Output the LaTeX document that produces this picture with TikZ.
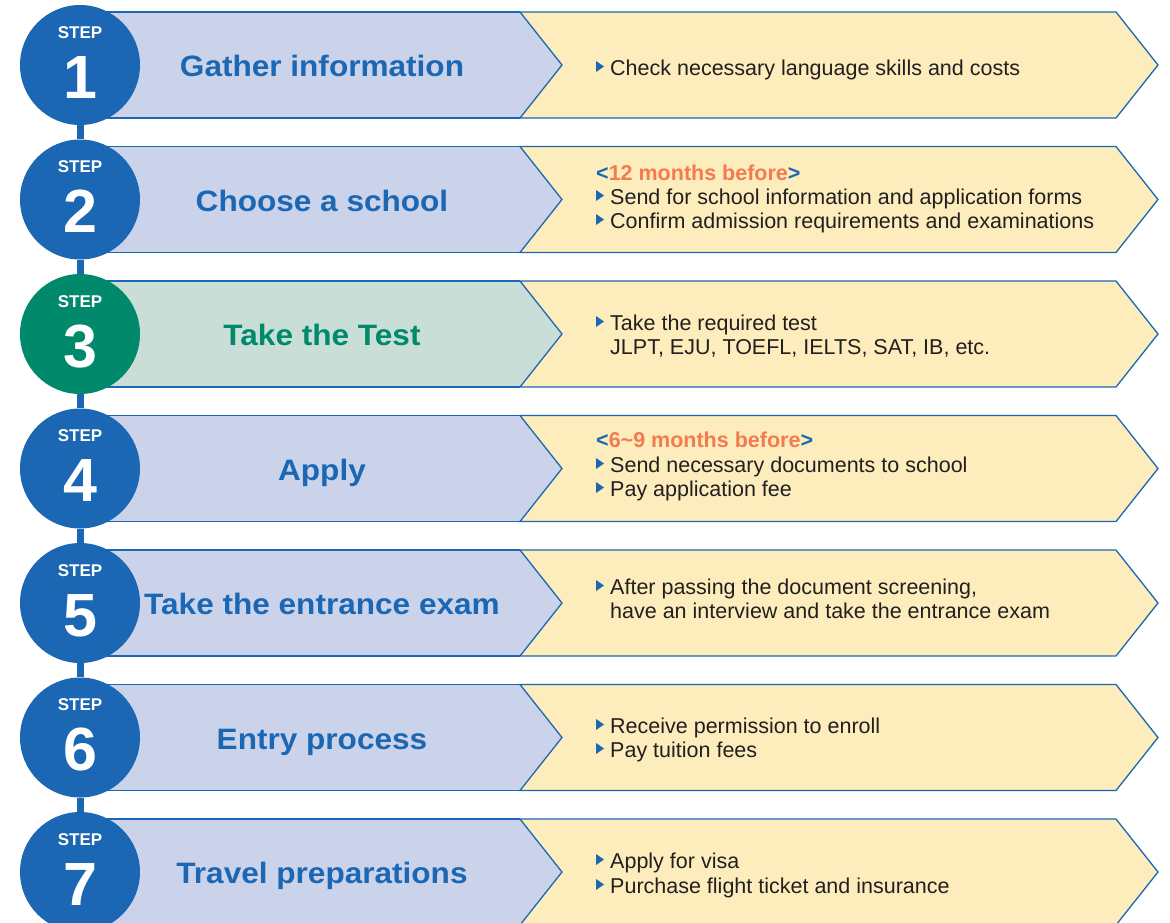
\documentclass[tikz,border=0pt]{standalone}
\usepackage{fontspec}
\setmainfont{Liberation Sans}
\newfontfamily\titlefont{Liberation Sans}[FakeStretch=1.07]
\definecolor{stepblue}{HTML}{1B67B3}
\definecolor{stepgreen}{HTML}{00896B}
\definecolor{barblue}{HTML}{CBD3EB}
\definecolor{bargreen}{HTML}{C8DED7}
\definecolor{baryellow}{HTML}{FDEDBC}
\definecolor{txtgray}{HTML}{231F20}
\definecolor{accent}{HTML}{F47A50}
\tikzset{
  outline/.style={draw=stepblue, line width=1.3pt, line join=miter},
  stepcircle/.style={circle, minimum size=120pt, inner sep=0pt},
  steplabel/.style={anchor=base, text=white, font=\bfseries\fontsize{17}{17}\selectfont, inner sep=0pt},
  stepnum/.style={anchor=base, text=white, font=\bfseries\fontsize{61}{61}\selectfont, inner sep=0pt},
  titletext/.style={anchor=base, font=\titlefont\bfseries\fontsize{29.5}{29.5}\selectfont, inner sep=0pt},
  bodytext/.style={anchor=base west, text=txtgray, font=\fontsize{21.5}{21.5}\selectfont, inner sep=0pt},
  whentext/.style={anchor=base west, text=stepblue, font=\bfseries\fontsize{21.5}{21.5}\selectfont, inner sep=0pt},
  conn/.style={draw=stepblue, line width=7pt},
  bul/.pic={\fill[stepblue] (0,-5.5) -- (0,5.5) -- (8,0) -- cycle;}
}
\begin{document}
\begin{tikzpicture}[x=1pt, y=-1pt]
\useasboundingbox (0,0) rectangle (1170,922);
\clip (0,0) rectangle (1170,922);
% bars
\foreach \k/\bc in {1/barblue,2/barblue,3/bargreen,4/barblue,5/barblue,6/barblue,7/barblue}{
  \pgfmathsetmacro{\yc}{65+134.5*(\k-1)}
  \pgfmathsetmacro{\yt}{\yc-53}
  \pgfmathsetmacro{\yb}{\yc+53}
  \fill[\bc] (80,\yt) -- (520,\yt) -- (562,\yc) -- (520,\yb) -- (80,\yb) -- cycle;
  \draw[outline] (80,\yt) -- (520,\yt);
  \draw[outline] (80,\yb) -- (520,\yb);
  \filldraw[outline, fill=baryellow] (520,\yt) -- (1116,\yt) -- (1158,\yc) -- (1116,\yb) -- (520,\yb) -- (562,\yc) -- cycle;
}
% circles
\foreach \k/\cc in {1/stepblue,2/stepblue,3/stepgreen,4/stepblue,5/stepblue,6/stepblue,7/stepblue}{
  \pgfmathsetmacro{\yc}{65+134.5*(\k-1)}
  \node[stepcircle, fill=\cc] (c\k) at (80,\yc) {};
  \node[steplabel] (s\k) at (80,\yc-27) {STEP};
  \node[stepnum] (n\k) at (80,\yc+33) {\k};
}
% connectors
\foreach \k [evaluate=\k as \n using int(\k+1)] in {1,...,6}{
  \draw[conn] (c\k) -- (c\n);
}
% titles
\node[titletext, text=stepblue] (t1) at (322,76.5) {Gather information};
\node[titletext, text=stepblue] (t2) at (322,211) {Choose a school};
\node[titletext, text=stepgreen] (t3) at (322,345.5) {Take the Test};
\node[titletext, text=stepblue] (t4) at (322,480) {Apply};
\node[titletext, text=stepblue] (t5) at (322,614.5) {Take the entrance exam};
\node[titletext, text=stepblue] (t6) at (322,749) {Entry process};
\node[titletext, text=stepblue] (t7) at (322,883.5) {Travel preparations};
% row 1
\pic at (596,66.5) {bul};
\node[bodytext] (b1a) at (610,75) {Check necessary language skills and costs};
% row 2
\node[whentext] (w2) at (596,180) {<\textcolor{accent}{12 months before}>};
\pic at (596,195.5) {bul};
\node[bodytext] (b2a) at (610,204) {Send for school information and application forms};
\pic at (596,219.5) {bul};
\node[bodytext] (b2b) at (610,228) {Confirm admission requirements and examinations};
% row 3
\pic at (596,321.5) {bul};
\node[bodytext] (b3a) at (610,330) {Take the required test};
\node[bodytext] (b3b) at (610,354) {JLPT, EJU, TOEFL, IELTS, SAT, IB, etc.};
% row 4
\node[whentext] (w4) at (596,447) {<\textcolor{accent}{6\textasciitilde 9 months before}>};
\pic at (596,463.5) {bul};
\node[bodytext] (b4a) at (610,472) {Send necessary documents to school};
\pic at (596,487.5) {bul};
\node[bodytext] (b4b) at (610,496) {Pay application fee};
% row 5
\pic at (596,585.5) {bul};
\node[bodytext] (b5a) at (610,594) {After passing the document screening,};
\node[bodytext] (b5b) at (610,618) {have an interview and take the entrance exam};
% row 6
\pic at (596,724.5) {bul};
\node[bodytext] (b6a) at (610,733) {Receive permission to enroll};
\pic at (596,748.5) {bul};
\node[bodytext] (b6b) at (610,757) {Pay tuition fees};
% row 7
\pic at (596,859.5) {bul};
\node[bodytext] (b7a) at (610,868) {Apply for visa};
\pic at (596,884.5) {bul};
\node[bodytext] (b7b) at (610,893) {Purchase flight ticket and insurance};
\end{tikzpicture}
\end{document}
